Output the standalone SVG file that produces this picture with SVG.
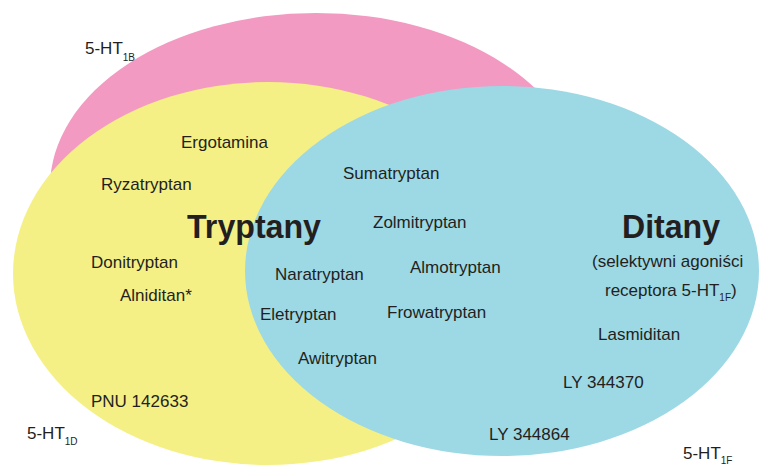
<svg xmlns="http://www.w3.org/2000/svg" width="761" height="466" viewBox="0 0 761 466">
  <style>
    .t { font-family: "Liberation Sans", Arial, sans-serif; font-size: 17px; fill: #231f20; }
    .b { font-family: "Liberation Sans", Arial, sans-serif; font-size: 33px; font-weight: bold; fill: #231f20; }
    .s { font-size: 10px; }
  </style>
  <rect width="761" height="466" fill="#ffffff"/>
  <g id="set-5ht1b">
    <ellipse cx="316" cy="187" rx="266" ry="174" fill="#f29ac2"/>
  </g>
  <g id="set-5ht1d">
    <ellipse cx="268" cy="273.5" rx="255" ry="191.5" fill="#f5f086"/>
  </g>
  <g id="set-5ht1f">
    <ellipse cx="502" cy="271" rx="257" ry="185" fill="#9dd8e5"/>
  </g>
  <g id="connectors"></g>
  <g id="label-5ht1b"><text class="t" x="85" y="54">5-HT<tspan class="s" dy="7">1B</tspan></text></g>
  <g id="label-5ht1d"><text class="t" x="27" y="439">5-HT<tspan class="s" dy="6">1D</tspan></text></g>
  <g id="label-5ht1f"><text class="t" x="683" y="459">5-HT<tspan class="s" dy="5">1F</tspan></text></g>
  <g id="title-tryptany"><text class="b" x="187" y="238" textLength="134" lengthAdjust="spacingAndGlyphs">Tryptany</text></g>
  <g id="title-ditany">
    <text class="b" x="622" y="238" textLength="98" lengthAdjust="spacingAndGlyphs">Ditany</text>
    <text class="t" x="592" y="267">(selektywni agoniści</text>
    <text class="t" x="605" y="296">receptora 5-HT<tspan class="s" dy="5">1F</tspan><tspan dy="-5">)</tspan></text>
  </g>
  <g id="ergotamina"><text class="t" x="181" y="148">Ergotamina</text></g>
  <g id="ryzatryptan"><text class="t" x="101" y="190">Ryzatryptan</text></g>
  <g id="donitryptan"><text class="t" x="91" y="268">Donitryptan</text></g>
  <g id="alniditan"><text class="t" x="120" y="301">Alniditan*</text></g>
  <g id="pnu142633"><text class="t" x="91" y="407">PNU 142633</text></g>
  <g id="sumatryptan"><text class="t" x="343" y="179">Sumatryptan</text></g>
  <g id="zolmitryptan"><text class="t" x="373" y="228">Zolmitryptan</text></g>
  <g id="naratryptan"><text class="t" x="275" y="280">Naratryptan</text></g>
  <g id="almotryptan"><text class="t" x="410" y="273">Almotryptan</text></g>
  <g id="eletryptan"><text class="t" x="260" y="320">Eletryptan</text></g>
  <g id="frowatryptan"><text class="t" x="387" y="318">Frowatryptan</text></g>
  <g id="awitryptan"><text class="t" x="298" y="364">Awitryptan</text></g>
  <g id="lasmiditan"><text class="t" x="598" y="340">Lasmiditan</text></g>
  <g id="ly344370"><text class="t" x="563" y="388">LY 344370</text></g>
  <g id="ly344864"><text class="t" x="489" y="440">LY 344864</text></g>
</svg>
